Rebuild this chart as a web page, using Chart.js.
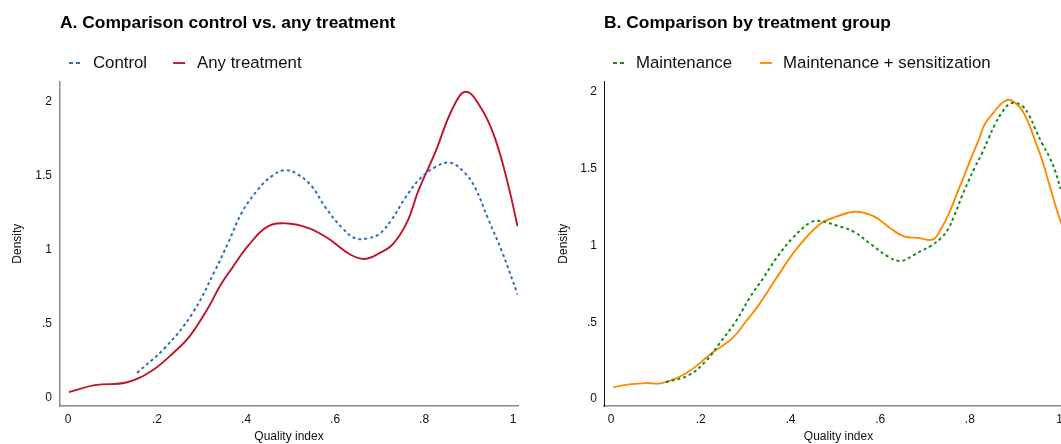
<!DOCTYPE html>
<html>
<head>
<meta charset="utf-8">
<script src="https://cdn.jsdelivr.net/npm/chart.js@4"></script>
<style>
  html, body { margin: 0; padding: 0; background: #fff; overflow: hidden; width: 1061px; height: 444px; }
  .panel { position: absolute; top: 0; height: 444px; }
  #left { left: 0; width: 530px; }
  #right { left: 530px; width: 560px; }
</style>
</head>
<body>
<div class="panel" id="left"><canvas id="chartA" width="530" height="444"></canvas></div>
<div class="panel" id="right"><canvas id="chartB" width="560" height="444"></canvas></div>
<script>
// Panel A: kernel density, control vs any treatment
const controlX = [0.155, 0.218, 0.279, 0.33, 0.36, 0.39, 0.427, 0.458, 0.488, 0.517, 0.548, 0.578, 0.616, 0.645, 0.674, 0.70, 0.728, 0.757, 0.79, 0.825, 0.858, 0.892, 0.915, 0.944, 0.975, 1.01]
const controlY = [0.17, 0.34, 0.57, 0.86, 1.05, 1.25, 1.41, 1.50, 1.54, 1.51, 1.43, 1.29, 1.15, 1.08, 1.08, 1.11, 1.21, 1.35, 1.48, 1.56, 1.59, 1.52, 1.42, 1.21, 0.99, 0.70]
const anyX = [0.002, 0.06, 0.133, 0.19, 0.24, 0.274, 0.315, 0.342, 0.369, 0.405, 0.449, 0.494, 0.539, 0.584, 0.634, 0.667, 0.70, 0.73, 0.762, 0.787, 0.825, 0.863, 0.894, 0.93, 0.96, 0.989, 1.01]
const anyY = [0.04, 0.087, 0.107, 0.188, 0.315, 0.42, 0.61, 0.76, 0.88, 1.03, 1.16, 1.18, 1.15, 1.08, 0.97, 0.94, 0.98, 1.04, 1.19, 1.40, 1.66, 1.95, 2.07, 1.95, 1.75, 1.44, 1.16]

// Panel B: by treatment group
const maintX = [0.122, 0.173, 0.212, 0.241, 0.279, 0.309, 0.342, 0.369, 0.405, 0.444, 0.466, 0.504, 0.541, 0.579, 0.617, 0.646, 0.676, 0.691, 0.714, 0.736, 0.752, 0.766, 0.782, 0.797, 0.811, 0.827, 0.842, 0.856, 0.872, 0.887, 0.901, 0.917, 0.932, 0.946, 0.962, 0.977, 0.991, 1.002]
const maintY = [0.11, 0.155, 0.25, 0.36, 0.51, 0.66, 0.80, 0.92, 1.05, 1.15, 1.16, 1.13, 1.09, 1.01, 0.93, 0.90, 0.94, 0.965, 1.00, 1.05, 1.11, 1.20, 1.32, 1.42, 1.51, 1.60, 1.70, 1.79, 1.87, 1.92, 1.93, 1.91, 1.85, 1.76, 1.66, 1.58, 1.48, 1.37]
const sensX = [0.005, 0.045, 0.077, 0.113, 0.167, 0.225, 0.27, 0.302, 0.331, 0.369, 0.414, 0.466, 0.504, 0.545, 0.586, 0.624, 0.653, 0.685, 0.718, 0.736, 0.752, 0.77, 0.788, 0.804, 0.82, 0.833, 0.854, 0.872, 0.887, 0.901, 0.917, 0.932, 0.946, 0.962, 0.977, 0.991, 1.002, 1.014, 1.025]
const sensY = [0.078, 0.097, 0.104, 0.104, 0.168, 0.30, 0.395, 0.51, 0.62, 0.79, 0.98, 1.14, 1.19, 1.22, 1.19, 1.11, 1.06, 1.05, 1.04, 1.11, 1.20, 1.33, 1.46, 1.58, 1.69, 1.79, 1.87, 1.93, 1.95, 1.93, 1.88, 1.79, 1.68, 1.55, 1.40, 1.26, 1.16, 1.08, 1.0]

const xTicks = [0, 0.2, 0.4, 0.6, 0.8, 1]
const yTicks = [0, 0.5, 1, 1.5, 2]

const FONT = '"Liberation Sans", Arial, Helvetica, sans-serif'
const fmt = (v) => String(Math.round(v * 10) / 10).replace(/^0\./, '.')
const pts = (xs, ys) => xs.map((x, i) => ({ x, y: ys[i] }))

// legend drawn as short line samples above the plot, Stata style
const lineLegend = {
  id: 'lineLegend',
  afterDraw(chart, args, opts) {
    const ctx = chart.ctx
    let x = chart.chartArea.left + opts.offset
    ctx.save()
    ctx.font = '16.8px ' + FONT
    ctx.textBaseline = 'middle'
    chart.data.datasets.forEach(ds => {
      ctx.strokeStyle = ds.borderColor
      ctx.lineWidth = ds.borderWidth
      ctx.setLineDash(ds.borderDash ? [4, 3] : [])
      ctx.beginPath()
      ctx.moveTo(x, opts.y)
      ctx.lineTo(x + 12, opts.y)
      ctx.stroke()
      ctx.setLineDash([])
      x += 12 + opts.gap
      ctx.fillStyle = '#111'
      ctx.fillText(ds.label, x, opts.y)
      x += ctx.measureText(ds.label).width + opts.spacing
    })
    ctx.restore()
  }
}

function makeChart(id, cfg) {
  const ctx = document.getElementById(id).getContext('2d')
  return new Chart(ctx, {
    type: 'line',
    data: { datasets: cfg.datasets },
    plugins: [lineLegend],
    options: {
      responsive: false,
      animation: false,
      layout: { padding: { left: cfg.padLeft, right: cfg.padRight, top: 0, bottom: 0 } },
      elements: { point: { radius: 0 }, line: { tension: 0.4 } },
      plugins: {
        legend: { display: false },
        tooltip: { enabled: false },
        title: {
          display: true,
          text: cfg.title,
          align: 'start',
          fullSize: false,
          color: '#000',
          font: { family: FONT, size: 17.4, weight: 'bold' },
          padding: { top: 13, bottom: 47.5 }
        },
        lineLegend: cfg.legend
      },
      scales: {
        x: {
          type: 'linear',
          min: cfg.xMin,
          max: cfg.xMax,
          afterBuildTicks: (s) => { s.ticks = xTicks.map(v => ({ value: v })) },
          afterFit: (s) => { s.height = 38 },
          ticks: { callback: fmt, color: '#111', padding: 6, font: { family: FONT, size: 12 }, maxRotation: 0 },
          grid: { display: false, drawTicks: false },
          border: { color: '#8a8a8a', width: 1.5 },
          title: { display: true, text: 'Quality index', color: '#111', padding: 0, font: { family: FONT, size: 12 } }
        },
        y: {
          min: cfg.yMin,
          max: cfg.yMax,
          afterBuildTicks: (s) => { s.ticks = yTicks.map(v => ({ value: v })) },
          afterFit: (s) => { s.width = cfg.yWidth },
          ticks: { callback: fmt, color: '#111', padding: cfg.yPad, font: { family: FONT, size: 12 } },
          grid: { display: false, drawTicks: false },
          border: { color: cfg.yAxisColor, width: cfg.yAxisWidth },
          title: { display: true, text: 'Density', color: '#111', padding: 0, font: { family: FONT, size: 12 } }
        }
      }
    }
  })
}

makeChart('chartA', {
  title: 'A. Comparison control vs. any treatment',
  datasets: [
    { label: 'Control', data: pts(controlX, controlY), borderColor: '#2c6fbb', borderWidth: 2, borderDash: [3, 3] },
    { label: 'Any treatment', data: pts(anyX, anyY), borderColor: '#bf152c', borderWidth: 1.9 }
  ],
  legend: { offset: 9, gap: 12, spacing: 26, y: 63 },
  padLeft: 10.8, padRight: 12,
  yWidth: 49.2, yPad: 8,
  xMin: -0.018, xMax: 1.011,
  yMin: -0.0537, yMax: 2.14,
  yAxisColor: '#8a8a8a', yAxisWidth: 1.5
})

makeChart('chartB', {
  title: 'B. Comparison by treatment group',
  datasets: [
    { label: 'Maintenance', data: pts(maintX, maintY), borderColor: '#178a17', borderWidth: 2, borderDash: [3, 3] },
    { label: 'Maintenance + sensitization', data: pts(sensX, sensY), borderColor: '#ff8a00', borderWidth: 1.9 }
  ],
  legend: { offset: 9, gap: 11, spacing: 28, y: 63 },
  padLeft: 26.8, padRight: 17,
  yWidth: 47.2, yPad: 7,
  xMin: -0.0158, xMax: 1.03,
  yMin: -0.0453, yMax: 2.07,
  yAxisColor: '#111', yAxisWidth: 1
})
</script>
</body>
</html>
